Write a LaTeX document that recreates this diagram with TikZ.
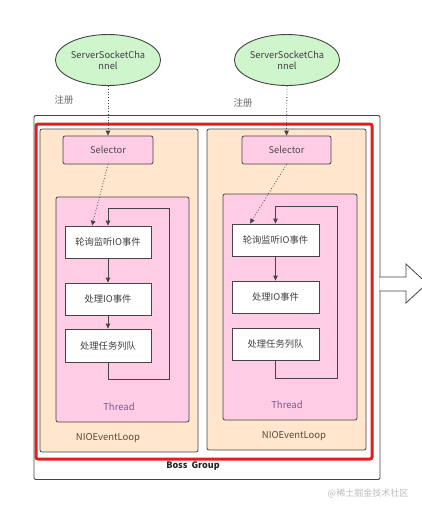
\documentclass[tikz,border=0pt]{standalone}
\usepackage{fontspec}
\setmainfont{Noto Sans CJK SC}
\usetikzlibrary{shapes.geometric,arrows.meta,calc}
\definecolor{chgreen}{HTML}{CFF5CC}
\definecolor{peach}{HTML}{FFE6CC}
\definecolor{pinkbox}{HTML}{FFCCE6}
\definecolor{redline}{HTML}{E02020}
\definecolor{edge}{HTML}{444444}
\definecolor{thr}{HTML}{7A5A88}
\definecolor{nio}{HTML}{5A4A3A}
\definecolor{wm}{HTML}{BBBBBB}
\tikzset{
  chan/.style={ellipse,draw=edge,fill=chgreen,line width=0.9pt,minimum width=92pt,minimum height=51pt,inner sep=0pt,align=center,font=\fontsize{9.3}{11}\selectfont,text=black!75},
  outerbox/.style={draw=edge,fill=white,line width=0.9pt,rounded corners=2pt,inner sep=0pt},
  redbox/.style={draw=redline,line width=3pt,rounded corners=2pt,inner sep=0pt},
  loopbox/.style={draw=edge,fill=peach,line width=0.8pt,rounded corners=2pt,inner sep=0pt},
  selbox/.style={draw=edge,fill=pinkbox,line width=0.8pt,rounded corners=2pt,inner sep=0pt,font=\fontsize{9.3}{11}\selectfont,text=black!70},
  thrbox/.style={draw=edge,fill=pinkbox,line width=0.8pt,rounded corners=2pt,inner sep=0pt},
  stepbox/.style={draw=edge,fill=white,line width=0.8pt,inner sep=0pt,font=\fontsize{9.3}{11}\selectfont,text=black!75},
  lbl/.style={inner sep=0pt,font=\fontsize{9.5}{11}\selectfont},
  arr/.style={draw=edge,line width=0.8pt,-{Triangle[length=5pt,width=4.5pt]}},
  dotarr/.style={draw=edge,line width=0.8pt,dotted,-{Triangle[length=5pt,width=4.5pt]}},
}
\begin{document}
\begin{tikzpicture}[x=1pt,y=-1pt]
\useasboundingbox (0,0) rectangle (421,512);
% channels
\node[chan] (c1) at (108,60) {ServerSocketCha\\nnel};
\node[chan] (c2) at (287,60) {ServerSocketCha\\nnel};
\node[lbl,text=black!60] (reg1) at (64,100) {注册};
\node[lbl,text=black!60] (reg2) at (243,103) {注册};
% outer and red boxes
\node[outerbox,minimum width=346pt,minimum height=364pt] (boss) at (207,297.5) {};
\node[loopbox,minimum width=158pt,minimum height=323pt] (el1) at (119,290.5) {};
\node[loopbox,minimum width=159pt,minimum height=321pt] (el2) at (286.5,289.5) {};
\node[redbox,minimum width=336pt,minimum height=335pt] (red) at (204,291.5) {};
% selectors
\node[selbox,minimum width=90pt,minimum height=28pt] (s1) at (108,150) {Selector};
\node[selbox,minimum width=89pt,minimum height=28pt] (s2) at (286.5,150) {Selector};
% thread boxes
\node[thrbox,minimum width=133pt,minimum height=225pt] (t1) at (122.5,309.5) {};
\node[thrbox,minimum width=134pt,minimum height=226pt] (t2) at (290,307) {};
% steps left
\node[stepbox,minimum width=86pt,minimum height=32pt] (l1) at (108,242) {轮询监听IO事件};
\node[stepbox,minimum width=86pt,minimum height=32pt] (l2) at (108,299) {处理IO事件};
\node[stepbox,minimum width=86pt,minimum height=33pt] (l3) at (108,345.5) {处理任务列队};
% steps right
\node[stepbox,minimum width=87pt,minimum height=32pt] (r1) at (275.5,240) {轮询监听IO事件};
\node[stepbox,minimum width=87pt,minimum height=32pt] (r2) at (275.5,297) {处理IO事件};
\node[stepbox,minimum width=87pt,minimum height=32pt] (r3) at (275.5,344) {处理任务列队};
% labels
\node[lbl,text=thr] (th1) at (119,407) {Thread};
\node[lbl,text=thr] (th2) at (287,405) {Thread};
\node[lbl,text=nio] (n1) at (108,438) {NIOEventLoop};
\node[lbl,text=nio] (n2) at (294,436) {NIOEventLoop};
\node[lbl,font=\fontsize{9}{11}\selectfont\bfseries,text=black!85] (bg) at (193,466) {Boss\ \ Group};
\node[lbl,font=\fontsize{9}{11}\selectfont,text=wm] (wmk) at (368,493) {@稀土掘金技术社区};
% dotted connectors
\draw[dotarr] (c1.south) -- (s1.north);
\draw[dotarr] (c2.south) -- (s2.north);
\draw[dotarr] (s1.south) -- ($(l1.north)+(-16,0)$);
\draw[dotarr] (s2.south) -- ($(r1.north)+(-25.5,0)$);
% flow
\draw[arr] (l1.south) -- (l2.north);
\draw[arr] (l2.south) -- (l3.north);
\draw[arr] (r1.south) -- (r2.north);
\coordinate (lp1) at (169,379);
\coordinate (lp2) at (169,208);
\coordinate (rp1) at (337,378);
\coordinate (rp2) at (337,206);
\draw[arr] (l3.south) |- (lp1) -- (lp2) -| (l1.north);
\draw[arr] (r3.south) |- (rp1) -- (rp2) -| (r1.north);
% big hollow arrow
\draw[draw=edge,fill=white,line width=0.8pt,line join=miter] (379.5,277) -- (406,277) -- (406,264) -- (427,283.5) -- (406,303) -- (406,291) -- (379.5,291);
\end{tikzpicture}
\end{document}
